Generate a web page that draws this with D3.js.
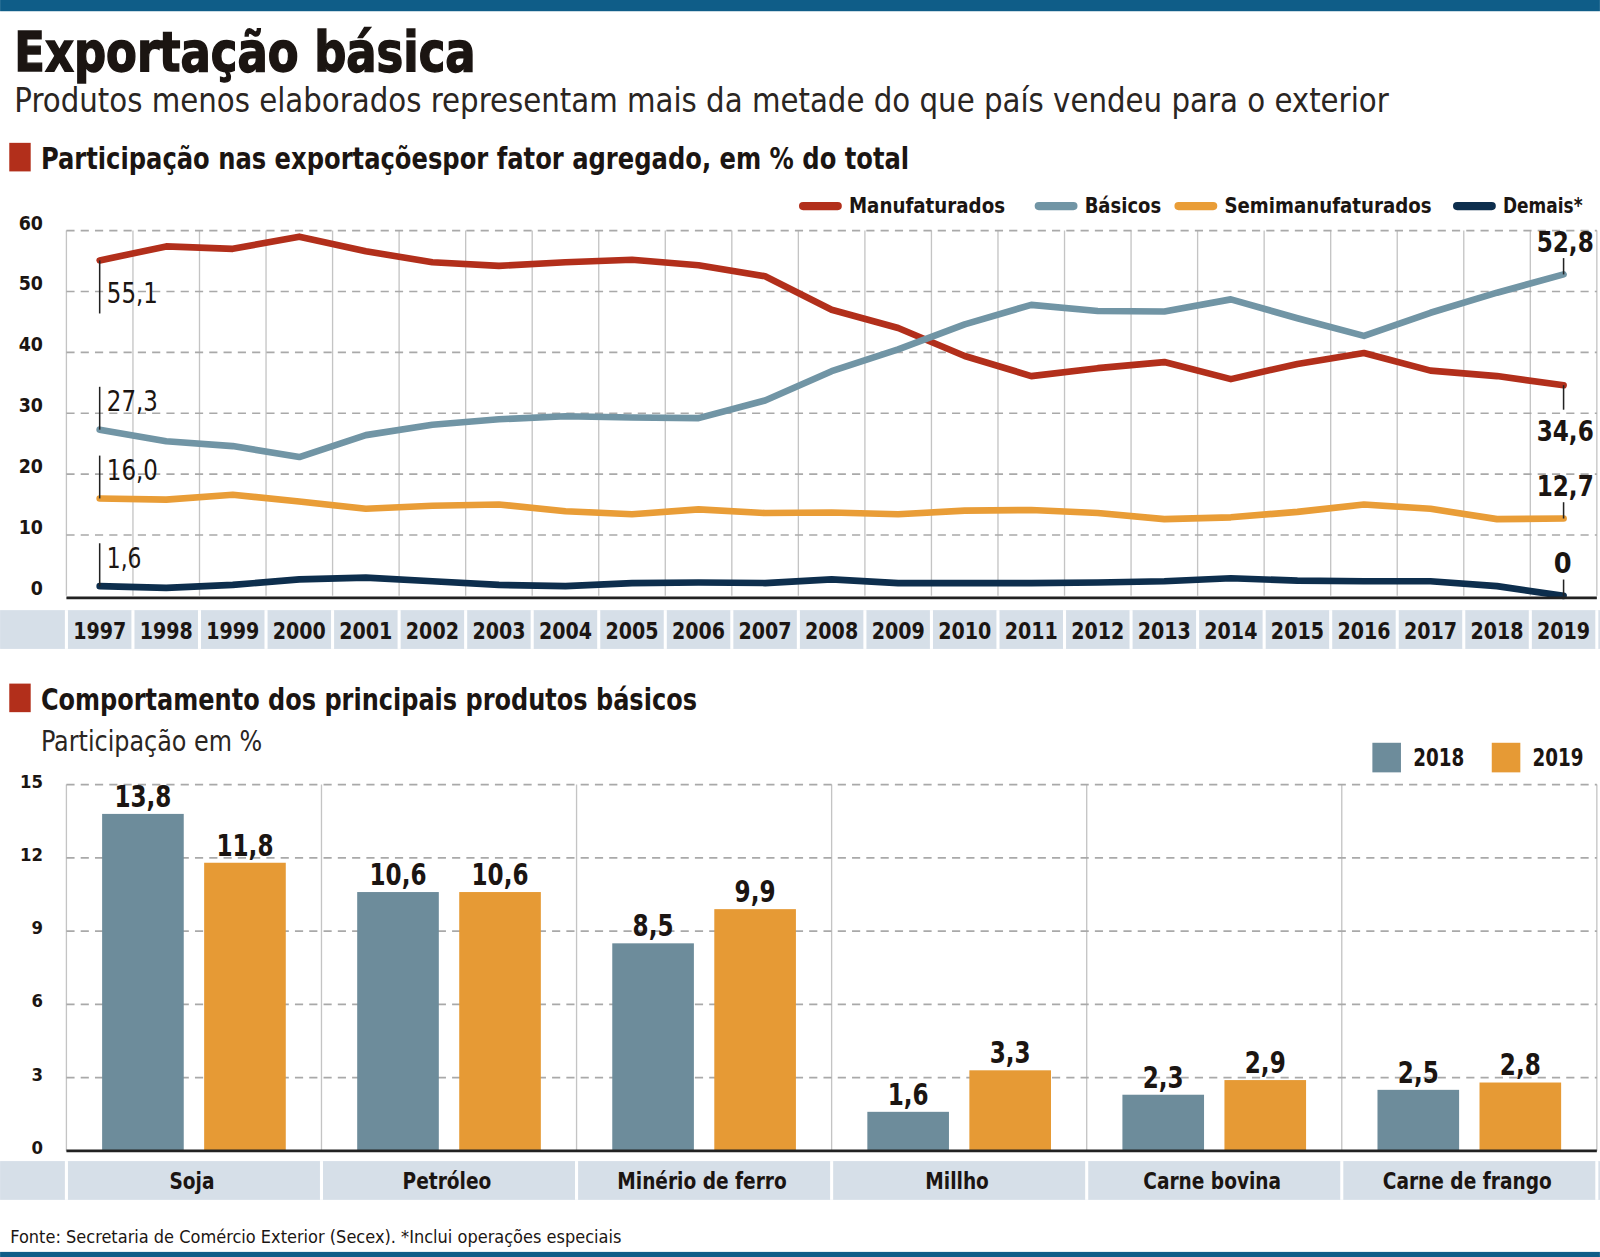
<!DOCTYPE html>
<html>
<head>
<meta charset="utf-8">
<script src="https://cdn.jsdelivr.net/npm/d3@7"></script>
<style>
  body { margin: 0; background: #fff; }
  svg { display: block; }
  text { font-family: "Liberation Sans Narrow", "DejaVu Sans Condensed", "Roboto Condensed", "Liberation Sans", sans-serif; fill: #1b1512; }
</style>
</head>
<body>
<svg width="1600" height="1257" viewBox="0 0 1568 1232"></svg>
<script>
// dados do gráfico de linhas (% do total)
const years = d3.range(1997, 2020);
const manufaturados = [55.1, 57.4, 57.0, 59.0, 56.6, 54.8, 54.2, 54.8, 55.2, 54.3, 52.5, 47.0, 44.0, 39.4, 36.1, 37.4, 38.4, 35.6, 38.1, 39.9, 37.0, 36.1, 34.6];
const basicos = [27.3, 25.4, 24.6, 22.8, 26.4, 28.1, 29.0, 29.5, 29.3, 29.2, 32.1, 36.9, 40.5, 44.6, 47.8, 46.8, 46.7, 48.7, 45.6, 42.7, 46.5, 49.8, 52.8];
const semimanufaturados = [16.0, 15.8, 16.6, 15.5, 14.3, 14.8, 15.0, 13.9, 13.4, 14.2, 13.6, 13.7, 13.4, 14.0, 14.1, 13.6, 12.6, 12.9, 13.8, 15.0, 14.3, 12.6, 12.7];
const demais = [1.6, 1.3, 1.8, 2.7, 3.0, 2.4, 1.8, 1.6, 2.1, 2.2, 2.1, 2.7, 2.1, 2.1, 2.1, 2.2, 2.4, 2.9, 2.5, 2.4, 2.4, 1.6, 0];
const seriesNames = ["Manufaturados", "Básicos", "Semimanufaturados", "Demais*"];
const lineTicks = [0, 10, 20, 30, 40, 50, 60];

// dados do gráfico de barras (participação em %)
const produtos = ["Soja", "Petróleo", "Minério de ferro", "Millho", "Carne bovina", "Carne de frango"];
const anosBarras = ["2018", "2019"];
const valores2018 = [13.8, 10.6, 8.5, 1.6, 2.3, 2.5];
const valores2019 = [11.8, 10.6, 9.9, 3.3, 2.9, 2.8];
const barTicks = [0, 3, 6, 9, 12, 15];

const colors = {
  "Manufaturados": "#b22f1b",
  "Básicos": "#7195a5",
  "Semimanufaturados": "#e99d37",
  "Demais*": "#0d2e4d",
  "2018": "#6d8c9b",
  "2019": "#e69a35"
};
const blue = "#0f5d88";
const band = "#d6dfe8";
const fmt = v => d3.format(".1f")(v).replace(".", ",");
const fmtInt = v => (v === 0 ? "0" : fmt(v));

const svg = d3.select("svg");

function label(g, str, x, y, o = {}) {
  const t = g.append("text")
    .attr("x", x).attr("y", y)
    .attr("font-size", o.size || 20)
    .attr("font-weight", o.weight || "bold")
    .attr("text-anchor", o.anchor || "start")
    .text(str);
  if (o.len) t.attr("textLength", o.len).attr("lengthAdjust", "spacingAndGlyphs");
  if (o.fill) t.style("fill", o.fill);
  return t;
}
// aperta o texto para imitar a fonte condensada do original
function squeeze(sel, f) {
  sel.each(function () {
    const w = this.getComputedTextLength();
    d3.select(this).attr("textLength", w * f).attr("lengthAdjust", "spacingAndGlyphs");
  });
}

// faixas azuis e cabeçalho
svg.append("rect").attr("x", 0).attr("y", 0).attr("width", 1568).attr("height", 11).attr("fill", blue);
svg.append("rect").attr("x", 0).attr("y", 1227).attr("width", 1568).attr("height", 6).attr("fill", blue);

label(svg, "Exportação básica", 14, 70, { size: 54, len: 452 })
  .style("stroke", "#1b1512").style("stroke-width", 1.4);
label(svg, "Produtos menos elaborados representam mais da metade do que país vendeu para o exterior", 14, 110, { size: 33, weight: 300, len: 1347, fill: "#2a2522" });

function sectionTitle(str, y, len) {
  svg.append("rect").attr("x", 9).attr("y", y - 26).attr("width", 21).attr("height", 28).attr("fill", "#b22f1b");
  label(svg, str, 40, y, { size: 29, len: len });
}
sectionTitle("Participação nas exportaçõespor fator agregado, em % do total", 166, 851);

// ---------- gráfico de linhas ----------
const left = 65, right = 1565;
const x = d3.scaleBand().domain(years).range([left, right]);
const y = d3.scaleLinear().domain([0, 60]).range([584, 226]);
const cx = d => x(d) + x.bandwidth() / 2;

const gl = svg.append("g");

// faixa dos anos
gl.append("rect").attr("x", 0).attr("y", 598).attr("width", 1568).attr("height", 38).attr("fill", band);
gl.selectAll(".sep").data(years.concat([2020])).enter().append("rect")
  .attr("x", (d, i) => left + i * x.bandwidth() - 1.5).attr("y", 598).attr("width", 3).attr("height", 38).attr("fill", "#fff");
gl.selectAll(".year").data(years).enter().append("text")
  .attr("x", cx).attr("y", 626).attr("text-anchor", "middle")
  .attr("font-size", 22).attr("font-weight", "bold")
  .attr("textLength", 52).attr("lengthAdjust", "spacingAndGlyphs")
  .text(d => d);

// grades
gl.selectAll(".vgrid").data(years.concat([2020])).enter().append("line")
  .attr("x1", (d, i) => left + i * x.bandwidth()).attr("x2", (d, i) => left + i * x.bandwidth())
  .attr("y1", y(60)).attr("y2", y(0)).attr("stroke", "#c4c4c4").attr("stroke-width", 1.3);
gl.selectAll(".hgrid").data(lineTicks.filter(d => d > 0)).enter().append("line")
  .attr("x1", left).attr("x2", right).attr("y1", y).attr("y2", y)
  .attr("stroke", "#a9a9a9").attr("stroke-width", 1.6).attr("stroke-dasharray", "8,6");
gl.selectAll(".ytick").data(lineTicks).enter().append("text")
  .attr("x", 42).attr("y", d => y(d) - 1).attr("text-anchor", "end")
  .attr("font-size", 19).attr("font-weight", "bold").text(d => d);

const seriesData = [manufaturados, basicos, semimanufaturados, demais];
const lineGen = d3.line().x((d, i) => cx(years[i])).y(d => y(d));
seriesData.forEach((vals, k) => {
  gl.append("path").datum(vals).attr("d", lineGen)
    .attr("fill", "none").attr("stroke", colors[seriesNames[k]])
    .attr("stroke-width", 6.5).attr("stroke-linejoin", "round").attr("stroke-linecap", "round");
});
gl.append("line").attr("x1", left).attr("x2", right).attr("y1", y(0) + 2).attr("y2", y(0) + 2)
  .attr("stroke", "#222").attr("stroke-width", 2.5);

// rótulos iniciais (1997) e finais (2019)
const x0 = cx(years[0]), x1 = cx(years[years.length - 1]);
const startBelow = [true, false, false, false];
seriesData.forEach((vals, k) => {
  const v = vals[0], py = y(v);
  if (startBelow[k]) {
    gl.append("line").attr("x1", x0).attr("x2", x0).attr("y1", py).attr("y2", py + 52).attr("stroke", "#222").attr("stroke-width", 1.5);
    label(gl, fmt(v), x0 + 7, py + 42, { size: 27, weight: 300, len: 50 });
  } else {
    gl.append("line").attr("x1", x0).attr("x2", x0).attr("y1", py).attr("y2", py - 42).attr("stroke", "#222").attr("stroke-width", 1.5);
    label(gl, fmt(v), x0 + 7, py - 18, { size: 27, weight: 300, len: v < 10 ? 34 : 50 });
  }
});
const endBelow = [true, false, false, false];
seriesData.forEach((vals, k) => {
  const v = vals[vals.length - 1], py = y(v);
  if (endBelow[k]) {
    gl.append("line").attr("x1", x1).attr("x2", x1).attr("y1", py).attr("y2", py + 24).attr("stroke", "#222").attr("stroke-width", 1.5);
    label(gl, fmtInt(v), 1562, py + 55, { size: 28, anchor: "end", len: 56 });
  } else {
    gl.append("line").attr("x1", x1).attr("x2", x1).attr("y1", py).attr("y2", py - 16).attr("stroke", "#222").attr("stroke-width", 1.5);
    const s = fmtInt(v);
    label(gl, s, v === 0 ? x1 + 8 : 1562, py - 22, { size: 28, anchor: "end", len: v === 0 ? null : 56 });
  }
});

// legenda
const legX = [787, 1018, 1155, 1428];
const legLen = [153, 75, 203, 78];
seriesNames.forEach((n, i) => {
  gl.append("line").attr("x1", legX[i]).attr("x2", legX[i] + 34).attr("y1", 202).attr("y2", 202)
    .attr("stroke", colors[n]).attr("stroke-width", 8).attr("stroke-linecap", "round");
  label(gl, n, legX[i] + 45, 209, { size: 21, len: legLen[i] });
});

// ---------- gráfico de barras ----------
sectionTitle("Comportamento dos principais produtos básicos", 696, 643);
label(svg, "Participação em %", 40, 736, { size: 28, weight: 300, len: 217, fill: "#2a2522" });

const gb = svg.append("g");
const xb = d3.scaleBand().domain(produtos).range([left, right]);
const xi = d3.scaleBand().domain(anosBarras).range([0, xb.bandwidth()]).paddingInner(0.2).paddingOuter(0.35);
const yb = d3.scaleLinear().domain([0, 15]).range([1128, 769]);

gb.append("rect").attr("x", 0).attr("y", 1138).attr("width", 1568).attr("height", 38).attr("fill", band);
gb.selectAll(".bsep").data(produtos.concat(["fim"])).enter().append("rect")
  .attr("x", (d, i) => left + i * xb.bandwidth() - 1.5).attr("y", 1138).attr("width", 3).attr("height", 38).attr("fill", "#fff");
gb.selectAll(".cat").data(produtos).enter().append("text")
  .attr("x", d => xb(d) + xb.bandwidth() / 2 - 2).attr("y", 1165).attr("text-anchor", "middle")
  .attr("font-size", 23).attr("font-weight", "bold").text(d => d)
  .call(squeeze, 0.88);

gb.selectAll(".bvgrid").data(produtos.concat(["fim"])).enter().append("line")
  .attr("x1", (d, i) => left + i * xb.bandwidth()).attr("x2", (d, i) => left + i * xb.bandwidth())
  .attr("y1", yb(15)).attr("y2", yb(0)).attr("stroke", "#c4c4c4").attr("stroke-width", 1.3);
gb.selectAll(".bhgrid").data(barTicks.filter(d => d > 0)).enter().append("line")
  .attr("x1", left).attr("x2", right).attr("y1", yb).attr("y2", yb)
  .attr("stroke", "#a9a9a9").attr("stroke-width", 1.6).attr("stroke-dasharray", "8,6");
gb.selectAll(".bytick").data(barTicks).enter().append("text")
  .attr("x", 42).attr("y", d => yb(d) + 3).attr("text-anchor", "end")
  .attr("font-size", 18).attr("font-weight", "bold").text(d => d);

const barRows = [];
produtos.forEach((p, i) => {
  barRows.push({ p, ano: "2018", v: valores2018[i] });
  barRows.push({ p, ano: "2019", v: valores2019[i] });
});
gb.selectAll(".bar").data(barRows).enter().append("rect")
  .attr("x", d => xb(d.p) + xi(d.ano)).attr("width", xi.bandwidth())
  .attr("y", d => yb(d.v)).attr("height", d => yb(0) - yb(d.v))
  .attr("fill", d => colors[d.ano]);
gb.selectAll(".bval").data(barRows).enter().append("text")
  .attr("x", d => xb(d.p) + xi(d.ano) + xi.bandwidth() / 2).attr("y", d => yb(d.v) - 7)
  .attr("text-anchor", "middle").attr("font-size", 30).attr("font-weight", "bold")
  .text(d => fmt(d.v))
  .call(squeeze, 0.84);
gb.append("line").attr("x1", left).attr("x2", right).attr("y1", yb(0)).attr("y2", yb(0))
  .attr("stroke", "#222").attr("stroke-width", 2.5);

// legenda barras
const legB = [1345, 1462];
anosBarras.forEach((a, i) => {
  gb.append("rect").attr("x", legB[i]).attr("y", 728).attr("width", 28).attr("height", 29).attr("fill", colors[a]);
  label(gb, a, legB[i] + 40, 751, { size: 24, len: 50 });
});

label(svg, "Fonte: Secretaria de Comércio Exterior (Secex). *Inclui operações especiais", 10, 1218, { size: 18, weight: "normal", len: 599 });
</script>
</body>
</html>
